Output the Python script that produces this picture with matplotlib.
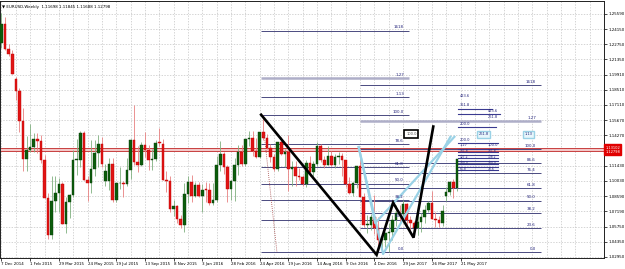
import matplotlib
matplotlib.use('Agg')
import matplotlib.pyplot as plt
import matplotlib.transforms as mtransforms
import numpy as np

# weekly EURUSD candles, 7 Dec 2014 .. 14 May 2017
opens = [1.2290, 1.2465, 1.2230, 1.2185,
         1.1950, 1.1840, 1.1565, 1.1205, 1.1290, 1.1315, 1.1390, 1.1380, 1.1195, 1.0840,
         1.0495, 1.0820, 1.0890, 1.0970, 1.0600, 1.0810, 1.0870, 1.1200, 1.1200, 1.1450,
         1.1015, 1.0985, 1.1110, 1.1265, 1.1350, 1.1000, 1.1000, 1.1165, 1.0830, 1.0980,
         1.0985, 1.0970, 1.1105, 1.1385, 1.1180, 1.1150, 1.1335, 1.1295, 1.1195, 1.1210,
         1.1355, 1.1350, 1.1015, 1.1005, 1.0740, 1.0770, 1.0645, 1.0590, 1.0880, 1.0990,
         1.0865, 1.0965,
         1.0860, 1.0920, 1.0915, 1.0795, 1.0830, 1.1155, 1.1255, 1.1130, 1.0930, 1.1005,
         1.1155, 1.1270, 1.1165, 1.1390, 1.1400, 1.1285, 1.1225, 1.1455, 1.1405, 1.1310,
         1.1225, 1.1115, 1.1365, 1.1250, 1.1275, 1.1115, 1.1135, 1.1050, 1.1040, 1.0975,
         1.1175, 1.1085, 1.1160, 1.1325, 1.1200, 1.1155, 1.1235, 1.1155, 1.1225, 1.1240,
         1.1200, 1.0970, 1.0890, 1.0985, 1.1140, 1.0850, 1.0590, 1.0590, 1.0665, 1.0560,
         1.0450, 1.0455,
         1.0520, 1.0530, 1.0640, 1.0700, 1.0695, 1.0785, 1.0640, 1.0615, 1.0560, 1.0620,
         1.0670, 1.0735, 1.0800, 1.0650, 1.0640, 1.0615, 1.0865, 1.0900, 1.0995, 1.0935]
highs = [1.2570, 1.2530, 1.2275, 1.2220,
         1.1970, 1.1870, 1.1680, 1.1420, 1.1535, 1.1450, 1.1450, 1.1430, 1.1245, 1.0890,
         1.1045, 1.1050, 1.1035, 1.0990, 1.0850, 1.0885, 1.1290, 1.1390, 1.1465, 1.1465,
         1.1050, 1.1385, 1.1385, 1.1435, 1.1410, 1.1160, 1.1215, 1.1215, 1.0985, 1.1130,
         1.1000, 1.1215, 1.1390, 1.1715, 1.1330, 1.1370, 1.1460, 1.1335, 1.1300, 1.1385,
         1.1495, 1.1390, 1.1100, 1.1050, 1.0830, 1.0780, 1.0690, 1.0985, 1.1045, 1.1060,
         1.0990, 1.0995,
         1.0970, 1.0995, 1.0985, 1.0985, 1.1240, 1.1375, 1.1270, 1.1150, 1.1010, 1.1220,
         1.1340, 1.1340, 1.1390, 1.1465, 1.1465, 1.1400, 1.1460, 1.1615, 1.1445, 1.1345,
         1.1250, 1.1370, 1.1415, 1.1300, 1.1430, 1.1185, 1.1185, 1.1120, 1.1060, 1.1200,
         1.1235, 1.1185, 1.1365, 1.1345, 1.1240, 1.1330, 1.1285, 1.1255, 1.1275, 1.1260,
         1.1200, 1.1040, 1.0995, 1.1145, 1.1300, 1.0890, 1.0690, 1.0695, 1.0875, 1.0670,
         1.0475, 1.0525,
         1.0610, 1.0685, 1.0775, 1.0775, 1.0830, 1.0795, 1.0680, 1.0630, 1.0715, 1.0700,
         1.0780, 1.0820, 1.0905, 1.0710, 1.0680, 1.0780, 1.0950, 1.1000, 1.1020, 1.1210]
lows = [1.2245, 1.2220, 1.2165, 1.2000,
        1.1755, 1.1460, 1.1100, 1.1100, 1.1270, 1.1270, 1.1260, 1.1170, 1.0840, 1.0460,
        1.0460, 1.0715, 1.0710, 1.0600, 1.0520, 1.0660, 1.0850, 1.1060, 1.1130, 1.1010,
        1.0820, 1.0890, 1.1050, 1.1130, 1.1130, 1.0955, 1.0915, 1.0810, 1.0810, 1.0925,
        1.0850, 1.0955, 1.1020, 1.1155, 1.1085, 1.1145, 1.1230, 1.1105, 1.1105, 1.1190,
        1.1325, 1.1010, 1.0900, 1.0710, 1.0675, 1.0615, 1.0565, 1.0525, 1.0795, 1.0805,
        1.0850, 1.0850,
        1.0710, 1.0805, 1.0775, 1.0780, 1.0810, 1.1095, 1.1065, 1.0810, 1.0825, 1.0820,
        1.1060, 1.1145, 1.1145, 1.1325, 1.1235, 1.1215, 1.1215, 1.1385, 1.1300, 1.1180,
        1.1095, 1.1100, 1.1245, 1.1130, 1.0910, 1.0955, 1.0955, 1.1010, 1.0955, 1.0950,
        1.1045, 1.1045, 1.1140, 1.1180, 1.1125, 1.1150, 1.1145, 1.1120, 1.1160, 1.1050,
        1.0950, 1.0880, 1.0860, 1.0940, 1.0850, 1.0570, 1.0515, 1.0550, 1.0505, 1.0365,
        1.0350, 1.0390,
        1.0340, 1.0455, 1.0580, 1.0620, 1.0615, 1.0590, 1.0520, 1.0495, 1.0495, 1.0525,
        1.0615, 1.0715, 1.0650, 1.0570, 1.0570, 1.0585, 1.0820, 1.0870, 1.0840, 1.0910]
closes = [1.2465, 1.2230, 1.2185, 1.2000,
          1.1840, 1.1565, 1.1205, 1.1290, 1.1315, 1.1390, 1.1380, 1.1195, 1.0840, 1.0495,
          1.0820, 1.0890, 1.0970, 1.0600, 1.0810, 1.0870, 1.1200, 1.1200, 1.1450, 1.1015,
          1.0985, 1.1110, 1.1265, 1.1350, 1.1165, 1.1100, 1.1165, 1.0830, 1.0980, 1.0985,
          1.0970, 1.1105, 1.1385, 1.1180, 1.1150, 1.1335, 1.1295, 1.1195, 1.1210, 1.1355,
          1.1350, 1.1015, 1.1005, 1.0740, 1.0770, 1.0645, 1.0590, 1.0880, 1.0990, 1.0865,
          1.0965, 1.0860,
          1.0920, 1.0915, 1.0795, 1.0830, 1.1155, 1.1255, 1.1130, 1.0930, 1.1005, 1.1155,
          1.1270, 1.1165, 1.1390, 1.1400, 1.1285, 1.1225, 1.1455, 1.1405, 1.1310, 1.1225,
          1.1115, 1.1365, 1.1250, 1.1275, 1.1115, 1.1135, 1.1050, 1.1040, 1.0975, 1.1175,
          1.1085, 1.1160, 1.1325, 1.1200, 1.1155, 1.1235, 1.1155, 1.1225, 1.1240, 1.1200,
          1.0970, 1.0890, 1.0985, 1.1140, 1.0850, 1.0590, 1.0590, 1.0665, 1.0560, 1.0450,
          1.0455, 1.0520,
          1.0530, 1.0640, 1.0700, 1.0695, 1.0785, 1.0640, 1.0615, 1.0560, 1.0620, 1.0670,
          1.0735, 1.0800, 1.0650, 1.0640, 1.0615, 1.0725, 1.0900, 1.0995, 1.0935, 1.1205]

date_labels = ["7 Dec 2014", "1 Feb 2015", "29 Mar 2015", "24 May 2015", "19 Jul 2015",
               "13 Sep 2015", "8 Nov 2015", "3 Jan 2016", "28 Feb 2016", "24 Apr 2016",
               "19 Jun 2016", "14 Aug 2016", "9 Oct 2016", "4 Dec 2016", "29 Jan 2017",
               "26 Mar 2017", "21 May 2017"]
price_ticks = [1.02950, 1.04350, 1.05750, 1.07190, 1.08590, 1.10030, 1.11430, 1.12830,
               1.14270, 1.15670, 1.17110, 1.18510, 1.19910, 1.21350, 1.22750, 1.24150,
               1.25590]

# fibonacci tools: (bar start, bar end, price 0%, price 100%)
fib1_bars = [72.5, 113.7]
fib1_prices = [1.0340, 1.1616]
fib1_levels = [0.0, 23.6, 38.2, 50.0, 61.8, 78.6, 100.0, 113.0, 127.0, 161.8]
fib1_texts = ["0.0", "23.6", "38.2", "50.0", "61.8", "78.6", "100.0", "1.13", "1.27", "1618"]
fib2_bars = [100.0, 150.5]
fib2_prices = [1.0340, 1.1300]
fib2_levels = [0.0, 23.6, 38.2, 50.0, 61.8, 76.4, 86.6, 100.0, 127.0, 161.8]
fib2_texts = ["0.0", "23.6", "38.2", "50.0", "61.8", "76.4", "86.6", "100.0", "1.27", "1618"]

# small expansion tools stacked next to the last bars
ext_prices = [1.1674, 1.1627, 1.1506, 1.1357,
              1.1301, 1.1273, 1.1245, 1.1217, 1.1189, 1.1161, 1.1133, 1.1105]
ext_ends = [136.8, 139.0, 138.0, 138.5,
            138.5, 138.5, 138.5, 138.5, 138.5, 138.5, 138.5, 138.5]
ext_left_texts = ["423.6", "361.8", "200.0", "200.0", "1.27",
                  "161.8", "127.2", "100.0", "61.8"]
ext_left_prices = [1.1776, 1.1692, 1.1515, 1.1366, 1.1320,
                   1.1264, 1.1208, 1.1152, 1.1096]
ext_right_texts = ["423.6", "261.8", "100.0",
                   "161.8", "138.2", "100.0", "78.6"]
ext_right_prices = [1.1636, 1.1580, 1.1320,
                    1.1264, 1.1208, 1.1152, 1.1096]

# zigzag drawn in black
zig_bars = [72.4, 104.6, 109.2, 114.9, 120.4]
zig_prices = [1.1620, 1.0315, 1.0800, 1.0475, 1.1510]

# light blue pattern lines
blue_a_bars = [99.6, 106.4, 125.2]
blue_a_prices = [1.1319, 1.0322, 1.1415]
blue_b_bars = [99.6, 104.2, 126.3]
blue_b_prices = [1.1319, 1.0610, 1.1415]

# dotted trend line
dot_bars = [73.3, 76.8]
dot_prices = [1.1425, 1.0340]

BULL = '#0b5d0b'
BEAR = '#e01515'
FIB = '#4a4a80'
FIBTXT = '#22227a'

fig = plt.figure(figsize=(6.25, 2.69), dpi=100)
ax = fig.add_axes([0.0, 11 / 269, 604 / 625, 257 / 269])

px_bar = 3.68
ax.set_xlim(-1.5 / px_bar, (604 - 1.5) / px_bar)
ax.set_ylim(1.2559 - 244 / 1073, 1.2559 + 13 / 1073)

# grid
ax.set_yticks(price_ticks)
# the 1.12830 label sits under the red price tag
ax.set_yticklabels(["" if abs(p - 1.12830) < 1e-6 else "%.5f" % p for p in price_ticks])
ax.set_xticks(np.arange(0, 8 * len(date_labels), 8))
ax.set_xticklabels(date_labels)
ax.set_xticks(np.arange(0, 170, 4), minor=True)
ax.grid(True, which='both', axis='x', color='#c4c4c4', lw=0.5, ls=(0, (2, 2)))
ax.grid(True, which='major', axis='y', color='#c4c4c4', lw=0.5, ls=(0, (2, 2)))
ax.set_axisbelow(True)
ax.yaxis.tick_right()
ax.tick_params(axis='both', which='major', labelsize=2.9, length=2, width=0.5,
               pad=1, colors='black')
ax.tick_params(axis='x', which='minor', length=0)
for lbl in ax.get_xticklabels():
    lbl.set_ha('left')
for s in ax.spines.values():
    s.set_linewidth(0.7)
    s.set_color('#202020')

# current price lines
ax.axhspan(1.1282, 1.1310, color='#f3c8c8', lw=0, zorder=1)
ax.axhline(1.1310, color='#c84040', lw=0.7, zorder=1.5)
ax.axhline(1.1282, color='#c84040', lw=0.7, zorder=1.5)


def draw_fib(bars, prices, levels, texts, zorder=2):
    lo, hi = prices
    for lev, txt in zip(levels, texts):
        p = lo + (hi - lo) * lev / 100.0
        lw = 1.8 if txt == "1.27" else 0.7
        col = '#aeaec8' if txt == "1.27" else FIB
        ax.plot(bars, [p, p], color=col, lw=lw, zorder=zorder, solid_capstyle='butt')
        ax.text(bars[1] - 1.5, p + 0.0012, txt, fontsize=2.9, color=FIBTXT,
                ha='right', va='bottom', zorder=6)


draw_fib(fib1_bars, fib1_prices, fib1_levels, fib1_texts)
draw_fib(fib2_bars, fib2_prices, fib2_levels, fib2_texts)

# expansion cluster
for p, x1 in zip(ext_prices, ext_ends):
    ax.plot([127.3, x1], [p, p], color='#3a3a90', lw=0.8, zorder=2)
for t, p in zip(ext_left_texts, ext_left_prices):
    fs = 2.2 if p < 1.128 else 2.6
    ax.text(127.8, p, t, fontsize=fs, color=FIBTXT, ha='left', va='bottom', zorder=6)
for t, p in zip(ext_right_texts, ext_right_prices):
    fs = 2.2 if p < 1.128 else 2.6
    ax.text(135.5, p, t, fontsize=fs, color=FIBTXT, ha='left', va='bottom', zorder=6)

# candles
idx = np.arange(len(opens))
o = np.array(opens)
h = np.array(highs)
l = np.array(lows)
c = np.array(closes)
up = c >= o
ax.vlines(idx[up], l[up], h[up], color='#7fb07f', lw=0.6, zorder=3)
ax.vlines(idx[~up], l[~up], h[~up], color='#e88080', lw=0.6, zorder=3)
body = np.where(np.abs(c - o) < 0.0008, 0.0008, c - o)
ax.bar(idx[up], body[up], bottom=o[up], width=0.72, color=BULL,
       edgecolor='#0a3a0a', lw=0.3, zorder=4)
ax.bar(idx[~up], body[~up], bottom=o[~up], width=0.72, color=BEAR,
       edgecolor='#c00000', lw=0.3, zorder=4)

# drawings
ax.plot(dot_bars, dot_prices, color='#a04040', lw=0.6, ls=(0, (1, 1.5)), zorder=5)
ax.plot(blue_a_bars, blue_a_prices, color='#9ad2e6', lw=1.6, zorder=5)
ax.plot(blue_b_bars, blue_b_prices, color='#9ad2e6', lw=1.6, zorder=5)
ax.plot(zig_bars, zig_prices, color='black', lw=1.9, zorder=6,
        solid_joinstyle='miter')

# label boxes
ax.text(114.3, 1.1440, "100.0", fontsize=2.6, color='#555555', ha='center',
        va='center', zorder=7,
        bbox=dict(boxstyle='square,pad=0.5', fc='white', ec='black', lw=1.2))
ax.text(134.5, 1.1438, "261.8", fontsize=2.6, color=FIBTXT, ha='center',
        va='center', zorder=7,
        bbox=dict(boxstyle='square,pad=0.4', fc='#e8f6fb', ec='#9ad2e6', lw=1.0))
ax.text(147.0, 1.1438, "1.13", fontsize=2.6, color=FIBTXT, ha='center',
        va='center', zorder=7,
        bbox=dict(boxstyle='square,pad=0.4', fc='#e8f6fb', ec='#9ad2e6', lw=1.0))

# price tag on the axis
tr = mtransforms.blended_transform_factory(ax.transAxes, ax.transData)
ax.text(1.002, 1.1296, "1.13102\n1.12798", transform=tr, fontsize=2.6,
        color='white', ha='left', va='center', linespacing=1.0, clip_on=False,
        bbox=dict(boxstyle='square,pad=0.3', fc='#e00000', ec='#e00000'))

# title
ax.text(0.004, 0.985, "\u25bc EURUSD,Weekly  1.11698 1.11845 1.11688 1.12798",
        transform=ax.transAxes, fontsize=2.9, ha='left', va='top', color='black')

fig.savefig('out.png', dpi=100)
plt.close(fig)
